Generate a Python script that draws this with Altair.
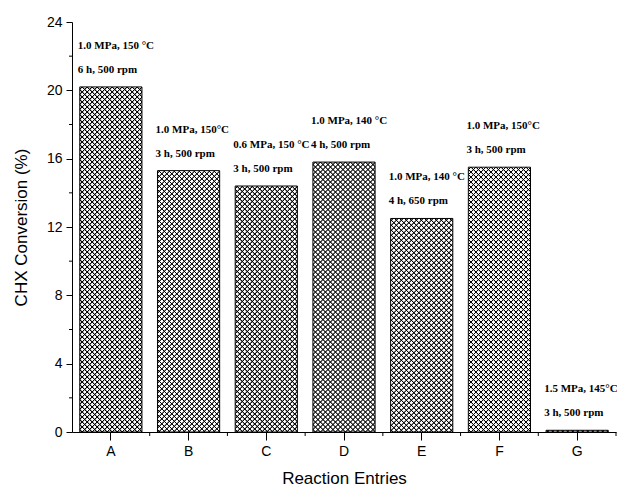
import math
import altair as alt
import pandas as pd

# ---- data ----
entries = ["A", "B", "C", "D", "E", "F", "G"]
conversion = [20.2, 15.3, 14.4, 15.8, 12.5, 15.5, 0.1]
condition_1 = ["1.0 MPa, 150 °C", "1.0 MPa, 150°C", "0.6 MPa, 150 °C", "1.0 MPa, 140 °C",
               "1.0 MPa, 140 °C", "1.0 MPa, 150°C", "1.5 MPa, 145°C"]
condition_2 = ["6 h, 500 rpm", "3 h, 500 rpm", "3 h, 500 rpm", "4 h, 500 rpm",
               "4 h, 650 rpm", "3 h, 500 rpm", "3 h, 500 rpm"]
y_ticks = [0, 4, 8, 12, 16, 20, 24]
y_minor = [2, 6, 10, 14, 18, 22]

df = pd.DataFrame({"entry": entries, "conversion": conversion,
                   "line1": condition_1, "line2": condition_2})
df_minor = pd.DataFrame({"conversion": y_minor})

# ---- layout ----
W, H = 544, 410
Y_MAX = 24
P_IN, P_OUT = 0.2, 0.1
STEP = W / (len(entries) - P_IN + 2 * P_OUT)
BAR_W = STEP * (1 - P_IN)
SANS = "Liberation Sans"
SERIF = "Liberation Serif"


def hatch(h, direction, period=5.0, dark="#000000", light="white"):
    """Diagonal line gradient (45 degrees in pixel space) for a bar of pixel height h."""
    w = BAR_W
    h = max(h, 0.5)
    n = max(1, math.ceil((w + h) / period))
    s = n * period / (w * w + h * h)
    a, b = w * s, h * s
    profile = [(0.0, light), (0.3, light), (0.45, dark), (0.55, dark), (0.7, light)]
    stops = []
    for k in range(n):
        for f, c in profile:
            stops.append(alt.GradientStop(offset=round((k + f) / n, 6), color=c))
    stops.append(alt.GradientStop(offset=1, color=light))
    if direction == "/":
        x1, y1, x2, y2 = 0, 0, a, b
    else:
        x1, y1, x2, y2 = 0, 1, a, 1 - b
    return alt.LinearGradient(gradient="linear", stops=stops,
                              x1=x1, y1=y1, x2=x2, y2=y2)


def x_encoding(**kw):
    return alt.X("entry:N", sort=entries, title="Reaction Entries",
                 scale=alt.Scale(paddingInner=P_IN, paddingOuter=P_OUT),
                 axis=alt.Axis(labelAngle=0, tickSize=8, labelPadding=4, titlePadding=12),
                 **kw)


x_enc = x_encoding()
y_enc = alt.Y("conversion:Q", title="CHX Conversion (%)",
              scale=alt.Scale(domain=[0, Y_MAX], nice=False, zero=True),
              axis=alt.Axis(values=y_ticks, tickSize=6, labelPadding=4, titlePadding=16))

base = alt.Chart(df)
layers = []
for e, v in zip(entries, conversion):
    h_px = v / Y_MAX * H
    sub = base.transform_filter(alt.datum.entry == e)
    layers.append(sub.mark_bar(fill=hatch(h_px, "/"), strokeWidth=0)
                  .encode(x=x_enc, y=y_enc))
    layers.append(sub.mark_bar(fill=hatch(h_px, "\\", light="rgba(0,0,0,0)"),
                               stroke="black", strokeWidth=1)
                  .encode(x=x_enc, y=y_enc))

text1 = base.mark_text(align="left", baseline="middle", dx=-33, dy=-41,
                       font=SERIF, fontWeight="bold", fontSize=11, color="black").encode(
    x=x_enc, y=y_enc, text="line1:N")
text2 = base.mark_text(align="left", baseline="middle", dx=-33, dy=-17,
                       font=SERIF, fontWeight="bold", fontSize=11, color="black").encode(
    x=x_enc, y=y_enc, text="line2:N")

# minor ticks
y_minor_ticks = alt.Chart(df_minor).mark_rule(color="black", strokeWidth=1).encode(
    y=y_enc, x=alt.value(-3), x2=alt.value(0))
x_minor_ticks = base.mark_rule(color="black", strokeWidth=1, xOffset=STEP * P_IN / 2).encode(
    x=x_encoding(bandPosition=1), y=alt.value(H), y2=alt.value(H + 4))

chart = alt.layer(*layers, text1, text2, y_minor_ticks, x_minor_ticks).properties(
    width=W, height=H,
    autosize=alt.AutoSizeParams(type="none"),
    padding={"left": 64, "top": 14, "right": 1, "bottom": 56},
    background="white",
).configure_view(stroke=None).configure_axis(
    domainColor="black", domainWidth=1, tickColor="black", tickWidth=1,
    labelFont=SANS, labelFontSize=14, labelColor="black",
    titleFont=SANS, titleFontSize=17, titleFontWeight="normal", titleColor="black",
    grid=False,
)

chart.save("out.html", embed_options={"renderer": "svg", "actions": False})
